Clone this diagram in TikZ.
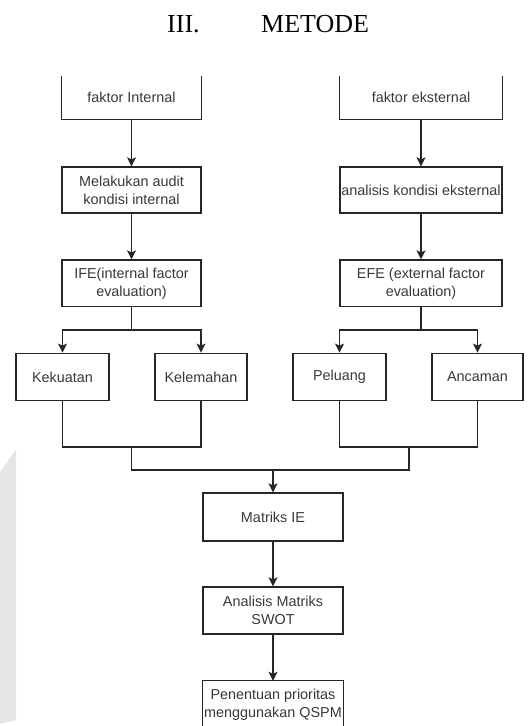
\documentclass[tikz,border=0pt]{standalone}
\usepackage{fontspec}
\setmainfont{Liberation Sans}
\newfontfamily\titlefont{Liberation Serif}
\usetikzlibrary{arrows.meta}
\definecolor{txt}{HTML}{383838}
\definecolor{wm}{HTML}{E6E6E9}
\begin{document}
\begin{tikzpicture}[x=1pt,y=-1pt,
  box/.style={draw=black!85,line width=1.3pt,rectangle,align=center,inner sep=0pt,
    text=txt,font=\fontsize{14.4}{18}\selectfont},
  openbox/.style={rectangle,align=center,inner sep=0pt,
    text=txt,font=\fontsize{14.4}{18}\selectfont},
  edge/.style={draw=black!85,line width=1.3pt},
  arr/.style={edge,-{Stealth[length=9pt,width=9pt,inset=2pt]}},
  ttl/.style={anchor=base west,inner sep=0pt,font=\titlefont\fontsize{26}{30}\selectfont}]
\useasboundingbox (0,0) rectangle (528,726);
\fill[wm] (0,472) -- (16,450) -- (16,720) -- (0,724) -- cycle;
\node[ttl] (t1) at (167,32) {III.};
\node[ttl] (t2) at (261,32) {METODE};
% top boxes (top edge cut)
\node[openbox,minimum width=139pt,minimum height=43pt] (fi) at (131.5,97.5) {faktor Internal};
\node[openbox,minimum width=162pt,minimum height=43pt] (fe) at (421,97.5) {faktor eksternal};
\draw[edge] (fi.north west) |- (fi.south east) -- (fi.north east);
\draw[edge] (fe.north west) |- (fe.south east) -- (fe.north east);
\node[box,minimum width=139pt,minimum height=46pt] (mk) at (131.5,190) {Melakukan audit\\kondisi internal};
\node[box,minimum width=162pt,minimum height=46pt] (ak) at (421,190) {analisis kondisi eksternal};
\node[box,minimum width=139pt,minimum height=46.5pt] (ife) at (131.5,283.3) {IFE(internal factor\\evaluation)};
\node[box,minimum width=162pt,minimum height=46.5pt] (efe) at (421,283.3) {EFE (external factor\\evaluation)};
\node[box,minimum width=93pt,minimum height=47.5pt] (s) at (62.5,377) {Kekuatan};
\node[box,minimum width=92pt,minimum height=47.5pt] (w) at (201,377) {Kelemahan};
\node[box,minimum width=93pt,minimum height=47.5pt] (o) at (339.5,377) {Peluang};
\node[box,minimum width=91pt,minimum height=47.5pt] (t) at (477.5,377) {Ancaman};
\node[box,minimum width=140pt,minimum height=48pt] (ie) at (273,517) {Matriks IE};
\node[box,minimum width=140pt,minimum height=47pt] (sw) at (273,610.5) {Analisis Matriks\\SWOT};
\node[openbox,minimum width=140pt,minimum height=48pt] (q) at (273,705) {Penentuan prioritas\\menggunakan QSPM};
\draw[edge] (q.south west) |- (q.north east) -- (q.south east);
% connectors
\draw[arr] (fi) -- (mk);
\draw[arr] (fe) -- (ak);
\draw[arr] (mk) -- (ife);
\draw[arr] (ak) -- (efe);
\coordinate (bl) at (131.5,330);
\coordinate (br) at (421,330);
\draw[edge] (ife.south) -- (bl);
\draw[edge] (efe.south) -- (br);
\draw[arr] (bl) -| (s.north);
\draw[arr] (bl) -| (w.north);
\draw[arr] (br) -| (o.north);
\draw[arr] (br) -| (t.north);
\coordinate (jl) at (131.75,447);
\coordinate (jr) at (409,447);
\coordinate (jm) at (273,470);
\draw[edge] (s.south) |- (jl) -| (w.south);
\draw[edge] (o.south) |- (jr) -| (t.south);
\draw[edge] (jl) |- (jm) -| (jr);
\draw[arr] (jm) -- (ie.north);
\draw[arr] (ie) -- (sw);
\draw[arr] (sw) -- (q.north);
\end{tikzpicture}
\end{document}
